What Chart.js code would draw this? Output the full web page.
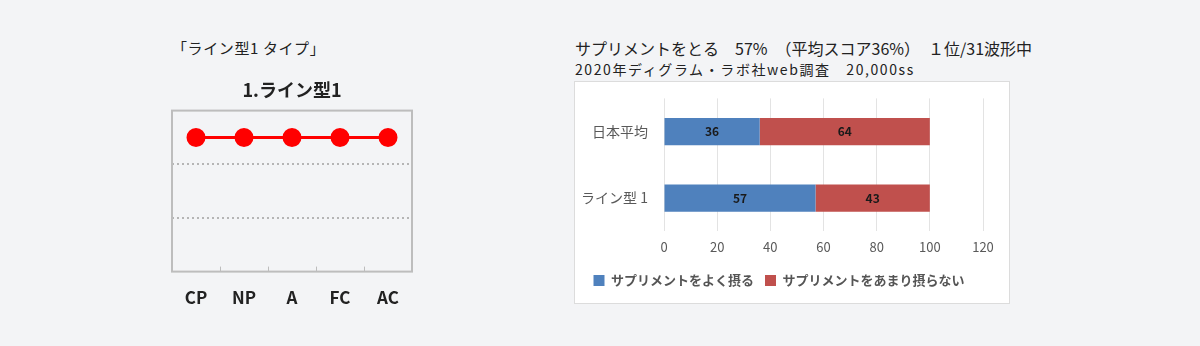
<!DOCTYPE html>
<html>
<head>
<meta charset="utf-8">
<script src="https://cdn.jsdelivr.net/npm/chart.js@4"></script>
<style>
  body { margin: 0; background: #f3f4f6; font-family: "Noto Sans CJK JP", sans-serif; }
  #page { position: relative; width: 1200px; height: 346px; }
  .txt { position: absolute; color: #222; white-space: nowrap; }
  #lineWrap { position: absolute; left: 150px; top: 70px; width: 290px; height: 246px; }
  #barWrap { position: absolute; left: 574px; top: 81px; width: 436px; height: 223px; background: #fff; border: 1px solid #dcdcdc; box-sizing: border-box; }
</style>
</head>
<body>
<div id="page">
  <div class="txt" style="left:172px; top:37px; font-size:15px; letter-spacing:0.6px;">「ライン型1 タイプ」</div>
  <div class="txt" style="left:575px; top:36px; font-size:16px;">サプリメントをとる　57%　（平均スコア36%）　１位/31波形中</div>
  <div class="txt" style="left:575px; top:59px; font-size:14px; letter-spacing:1.6px;">2020年ディグラム・ラボ社web調査　20,000ss</div>
  <div id="lineWrap"><canvas id="lineChart"></canvas></div>
  <div id="barWrap"><canvas id="barChart"></canvas></div>
</div>
<script>
const FONT = '"Noto Sans CJK JP", sans-serif';

// left chart
const lineLabels = ['CP', 'NP', 'A', 'FC', 'AC'];
const lineValues = [2.5, 2.5, 2.5, 2.5, 2.5];

// right chart
const barCategories = ['日本平均', 'ライン型 1'];
const takeValues = [36, 57];
const notTakeValues = [64, 43];
const seriesNames = ['サプリメントをよく摂る', 'サプリメントをあまり摂らない'];

const BLUE = '#4f81bd';
const RED = '#c0504d';

// draws the gray frame and the little inner tick marks of the left chart
const boxPlugin = {
    id: 'box',
    afterDraw(chart) {
        const a = chart.chartArea;
        const ctx = chart.ctx;
        const x = chart.scales.x;
        ctx.save();
        ctx.strokeStyle = '#bdbdbd';
        ctx.lineWidth = 1;
        for (let i = 0; i < lineLabels.length - 1; i++) {
            const px = Math.round((x.getPixelForValue(i) + x.getPixelForValue(i + 1)) / 2) + 0.5;
            ctx.beginPath();
            ctx.moveTo(px, a.bottom - 5);
            ctx.lineTo(px, a.bottom);
            ctx.stroke();
        }
        ctx.lineWidth = 2;
        ctx.strokeRect(a.left, a.top, a.right - a.left, a.bottom - a.top);
        ctx.restore();
    }
};

// values written in the middle of each bar piece
const barLabelPlugin = {
    id: 'barLabels',
    afterDatasetsDraw(chart) {
        const ctx = chart.ctx;
        ctx.save();
        ctx.font = 'bold 12px ' + FONT;
        ctx.fillStyle = '#1a1a1a';
        ctx.textAlign = 'center';
        ctx.textBaseline = 'middle';
        chart.data.datasets.forEach((ds, di) => {
            chart.getDatasetMeta(di).data.forEach((bar, i) => {
                ctx.fillText(ds.data[i], (bar.x + bar.base) / 2, bar.y);
            });
        });
        ctx.restore();
    }
};

new Chart(document.getElementById('lineChart'), {
    type: 'line',
    data: {
        labels: lineLabels,
        datasets: [{
            data: lineValues,
            borderColor: '#ff0000',
            backgroundColor: '#ff0000',
            borderWidth: 3,
            pointRadius: 8,
            pointHoverRadius: 8
        }]
    },
    options: {
        responsive: true,
        maintainAspectRatio: false,
        animation: false,
        layout: { padding: { left: 22, right: 28, top: 0, bottom: 0 } },
        plugins: {
            legend: { display: false },
            tooltip: { enabled: false },
            title: {
                display: true,
                text: '1.ライン型1',
                color: '#222',
                font: { family: FONT, size: 18, weight: 'bold' },
                padding: { top: 9, bottom: 10 }
            }
        },
        scales: {
            x: {
                offset: true,
                grid: { display: false },
                border: { display: false },
                ticks: { color: '#222', padding: 8, font: { family: FONT, size: 17, weight: 'bold' } }
            },
            y: {
                min: 0,
                max: 3,
                ticks: { display: false, stepSize: 1 },
                border: { display: false, dash: [2, 3] },
                grid: {
                    drawTicks: false,
                    lineWidth: 2,
                    color: c => (c.tick.value === 1 || c.tick.value === 2) ? '#b5b5b5' : 'rgba(0,0,0,0)'
                },
                afterFit(s) { s.width = 0; }
            }
        }
    },
    plugins: [boxPlugin]
});

new Chart(document.getElementById('barChart'), {
    type: 'bar',
    data: {
        labels: barCategories,
        datasets: [
            { label: seriesNames[0], data: takeValues, backgroundColor: BLUE },
            { label: seriesNames[1], data: notTakeValues, backgroundColor: RED }
        ]
    },
    options: {
        indexAxis: 'y',
        responsive: true,
        maintainAspectRatio: false,
        animation: false,
        categoryPercentage: 1,
        barPercentage: 0.41,
        layout: { padding: { left: 0, right: 26, top: 10, bottom: 6 } },
        plugins: {
            tooltip: { enabled: false },
            legend: {
                position: 'bottom',
                labels: {
                    boxWidth: 11,
                    boxHeight: 11,
                    padding: 11,
                    color: '#555',
                    font: { family: FONT, size: 13, weight: 'bold' }
                }
            }
        },
        scales: {
            x: {
                stacked: true,
                min: 0,
                max: 120,
                ticks: { stepSize: 20, color: '#595959', padding: 8, font: { family: FONT, size: 13 } },
                grid: { color: '#e3e3e3', drawTicks: false },
                border: { display: false }
            },
            y: {
                stacked: true,
                grid: { display: false },
                border: { display: false },
                ticks: { color: '#595959', padding: 8, font: { family: FONT, size: 14 } },
                afterFit(s) { s.width = 89; }
            }
        }
    },
    plugins: [barLabelPlugin]
});
</script>
</body>
</html>
